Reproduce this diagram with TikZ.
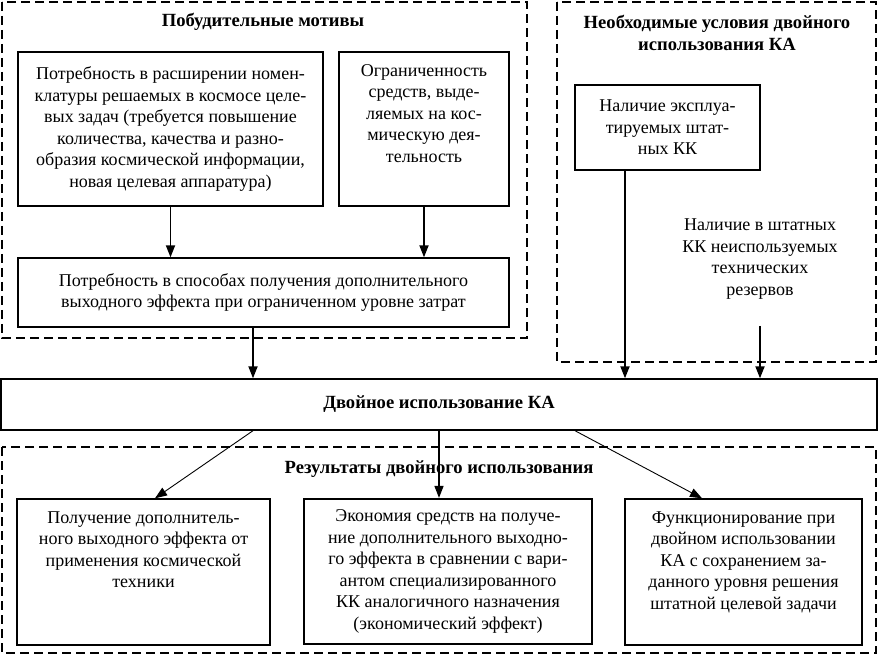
\documentclass[tikz,border=0pt]{standalone}
\usepackage{fontspec}
\setmainfont{Liberation Serif}
\usetikzlibrary{arrows.meta,positioning}

\begin{document}
\begin{tikzpicture}[x=1pt, y=-1pt,
    font=\fontsize{18}{21.5}\selectfont,
    box/.style={draw, line width=1.4pt, align=center, inner sep=0pt},
    txt/.style={align=center, inner sep=0pt},
    title/.style={align=center, inner sep=0pt, font=\fontsize{18.6}{22}\selectfont\bfseries},
    frame/.style={line width=1.3pt, dash pattern=on 9pt off 5pt},
    arr/.style={line width=1.9pt, -{Triangle[length=12pt,width=9pt]}},
    thinarr/.style={line width=0.9pt, -{Triangle[length=12pt,width=9pt]}}]
    \useasboundingbox (0,0) rectangle (879,655);

    % --- 1. пунктирные рамки ---
    \draw[frame] (2,2) rectangle (527,338);     % побудительные мотивы
    \draw[frame] (557,2) rectangle (876,362);   % необходимые условия
    \draw[frame] (2,447) rectangle (876,653);   % результаты

    \node[title] (motivtitle) at (263,22) {Побудительные мотивы};
    \node[title] (condtitle) at (717,33) {Необходимые условия двойного\\использования КА};
    \node[title] (restitle) at (439,469) {Результаты двойного использования};

    % --- 2. побудительные мотивы ---
    \node[box, minimum width=305, minimum height=154] (need) at (170.5,129)
        {Потребность в расширении номен-\\клатуры решаемых в космосе целе-\\вых задач (требуется повышение\\количества, качества и разно-\\образия космической информации,\\новая целевая аппаратура)};
    \node[box, minimum width=170, minimum height=154] (limit) at (424,129) {};
    \node[txt, below=13pt of limit.north] (limittext)
        {Ограниченность\\средств, выде-\\ляемых на кос-\\мическую дея-\\тельность};
    \node[box, minimum width=491, minimum height=69] (way) at (263.5,292.5)
        {Потребность в способах получения дополнительного\\выходного эффекта при ограниченном уровне затрат};

    \draw[arr] (need.south) -- (need.south |- way.north);
    \draw[arr] (limit.south) -- (limit.south |- way.north);

    % --- 3. необходимые условия ---
    \node[box, minimum width=185, minimum height=85] (exist) at (667.5,127.5)
        {Наличие эксплуа-\\тируемых штат-\\ных КК};
    \node[txt] (reserve) at (760,259)
        {Наличие в штатных\\КК неиспользуемых\\технических\\резервов};
    \coordinate (resfoot) at (760,326);

    % --- 4. двойное использование ---
    \node[box, minimum width=876, minimum height=51, font=\fontsize{18.6}{22}\selectfont\bfseries] (main) at (439,404.5)
        {Двойное использование КА};

    \draw[arr] ([xshift=-10.5pt]way.south) -- ([xshift=-10.5pt]way.south |- main.north);
    \draw[arr] ([xshift=-42.5pt]exist.south) -- ([xshift=-42.5pt]exist.south |- main.north);
    \draw[arr] (resfoot) -- (resfoot |- main.north);

    % --- 5. результаты ---
    \node[box, minimum width=253, minimum height=146] (res1) at (143.5,572) {};
    \node[txt, below=13pt of res1.north] (res1text)
        {Получение дополнитель-\\ного выходного эффекта от\\применения космической\\техники};
    \node[box, line width=2.2pt, minimum width=288, minimum height=145] (res2) at (448,571.5)
        {Экономия средств на получе-\\ние дополнительного выходно-\\го эффекта в сравнении с вари-\\антом специализированного\\КК аналогичного назначения\\(экономический эффект)};
    \node[box, minimum width=237, minimum height=146] (res3) at (743.5,572) {};
    \node[txt, below=13pt of res3.north] (res3text)
        {Функционирование при\\двойном использовании\\КА с сохранением за-\\данного уровня решения\\штатной целевой задачи};

    \draw[thinarr] ([xshift=-186pt]main.south) -- ([xshift=11.5pt]res1.north);
    \draw[arr, line width=1.4pt] (main.south) -- (main.south |- res2.north);
    \draw[thinarr] ([xshift=136pt]main.south) -- ([xshift=-41.5pt]res3.north);

\end{tikzpicture}
\end{document}
